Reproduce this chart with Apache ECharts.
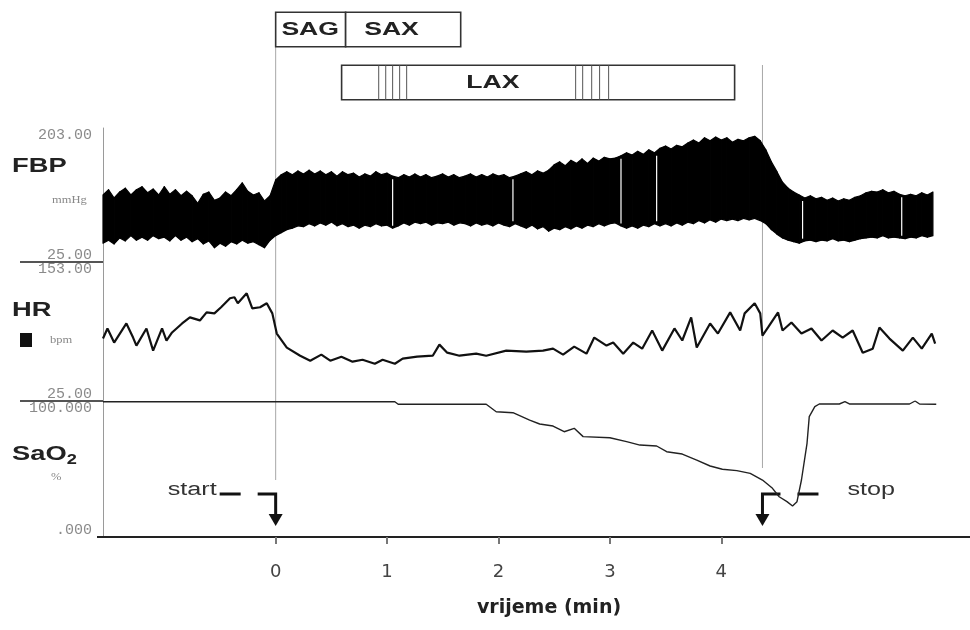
<!DOCTYPE html>
<html><head><meta charset="utf-8">
<script src="https://cdn.jsdelivr.net/npm/echarts@6/dist/echarts.min.js"></script>
<style>html,body{margin:0;padding:0;background:#fff}#c{width:970px;height:630px}</style>
</head><body><div id="c"></div>
<script>
// ---------- data ----------
const xTicks = [0, 1, 2, 3, 4];                       // vrijeme (min)
const fbpTicks = [25, 203], fbpTickLabels = ['25.00', '203.00'];
const hrTicks = [25, 153],  hrTickLabels = ['25.00', '153.00'];
const saTicks = [0, 100],   saTickLabels = ['.000', '100.000'];

// FBP envelope, sampled every 0.05 min from -1.55 min (mmHg)
const FBP_T0 = -1.55, FBP_DT = 0.05;
const fbpSys = [
 114,121,110,118,123,114,121,125,117,122,
 114,125,115,121,113,119,113,103,115,118,
 107,110,118,113,121,130,119,114,117,106,
 113,134,141,145,141,146,142,147,142,146,
 141,145,139,145,141,143,138,142,139,145,
 141,143,139,137,141,138,142,138,141,137,
 139,142,138,141,137,139,142,138,141,138,
 142,139,141,137,139,142,145,141,146,143,
 147,154,158,153,160,156,162,156,163,159,
 164,162,163,166,170,167,172,168,174,170,
 176,179,175,180,178,183,187,183,190,186,
 191,187,190,184,188,186,190,192,186,174,
 158,145,131,123,118,114,110,113,109,111,
 107,110,106,109,107,111,113,117,119,118,
 121,117,119,115,113,115,113,117,114,118];
const fbpDia = [
 50,54,49,57,53,60,54,58,54,60,
 56,58,53,60,54,58,52,56,49,53,
 44,50,46,52,49,54,50,52,48,44,
 54,60,64,68,70,73,72,76,73,77,
 74,78,73,76,72,74,70,74,72,76,
 73,74,70,73,77,74,78,76,78,74,
 77,76,78,74,77,76,73,77,74,76,
 73,77,74,72,76,73,70,74,69,72,
 66,70,68,72,69,73,70,74,72,76,
 73,76,77,73,70,73,70,74,72,76,
 73,76,73,77,74,78,76,80,77,81,
 78,82,80,82,80,83,81,83,80,76,
 68,62,57,54,52,50,53,54,52,54,
 53,56,53,54,52,54,56,57,58,57,
 60,57,58,57,56,58,57,60,58,60];
const fbpGapTimes = [1.05, 2.13, 3.10, 3.42, 4.73, 5.62];

// HR (bpm)
const hrTime = [-1.55,-1.51,-1.45,-1.34,-1.28,-1.25,-1.16,-1.10,-1.02,-0.98,-0.93,-0.84,-0.77,-0.68,-0.62,-0.55,-0.49,-0.41,-0.37,-0.34,-0.26,-0.21,-0.14,-0.08,-0.03,0.01,0.10,0.22,0.31,0.41,0.49,0.59,0.69,0.78,0.89,0.96,1.07,1.14,1.27,1.41,1.47,1.54,1.65,1.80,1.89,2.07,2.25,2.40,2.49,2.58,2.68,2.79,2.86,2.97,3.03,3.12,3.21,3.29,3.38,3.47,3.58,3.65,3.73,3.78,3.90,3.97,4.08,4.17,4.21,4.30,4.35,4.37,4.42,4.51,4.55,4.63,4.72,4.81,4.90,5.00,5.09,5.18,5.27,5.36,5.42,5.51,5.63,5.72,5.80,5.89,5.92];
const hrValue = [82.5,91.8,78.8,96.4,83.4,76.0,91.8,71.4,91.8,80.7,88.1,96.4,102.0,99.2,106.6,105.7,111.3,119.6,120.5,115.0,124.2,110.3,111.3,115.0,105.7,87.1,74.2,66.7,62.1,67.7,62.1,65.8,61.2,63.0,59.3,63.0,59.3,64.0,65.8,66.7,76.9,69.5,66.7,68.6,66.7,71.4,70.5,71.4,73.2,67.7,75.1,68.6,83.4,76.0,78.8,68.6,78.8,73.2,89.9,71.4,91.8,80.7,102.0,74.2,96.4,87.1,106.6,89.9,105.7,115.0,105.7,85.3,92.7,106.6,89.9,97.3,87.1,91.8,80.7,89.9,83.4,89.9,69.5,73.2,92.7,82.5,71.4,83.4,73.2,87.1,77.9];

// SaO2 (%)
const saTime = [-1.55,1.07,1.10,1.89,1.98,2.13,2.28,2.37,2.49,2.59,2.68,2.76,3.00,3.15,3.27,3.42,3.51,3.65,3.78,3.90,4.01,4.14,4.26,4.37,4.46,4.52,4.59,4.64,4.68,4.72,4.77,4.79,4.84,4.88,5.06,5.11,5.15,5.69,5.74,5.78,5.93];
const saValue = [99.5,99.5,97.6,97.6,92.1,91.4,86.0,83.1,81.6,77.4,79.9,73.8,73.0,70.1,67.6,66.9,62.7,61.0,56.6,52.2,49.8,48.8,46.8,41.9,35.8,29.6,26.0,22.8,26.0,41.9,68.9,88.5,95.8,97.8,97.8,99.5,97.8,97.8,100,97.8,97.6];

// imaging protocol boxes (min)
const boxNames  = ['SAG', 'SAX', 'LAX'];
const boxStart  = [0, 0.628, 0.592];
const boxEnd    = [0.628, 1.661, 4.12];
const boxRow    = [0, 0, 1];
const boxLabelT = [0.31, 1.04, 1.95];
const laxMarks  = [0.925, 0.988, 1.05, 1.113, 1.176, 2.693, 2.756, 2.837, 2.908, 2.989];

// events
const eventTime  = [0, 4.37];
const eventLabel = ['start', 'stop'];

// ---------- layout (not data) ----------
const X_MIN = -1.55, X_MAX = 6.233;
const LAYOUT = { eventTop: [13, 65], eventBottom: [480, 468], textGap: [59, 85] };

const chart = echarts.init(document.getElementById('c'), null, { renderer: 'canvas' });

function yLabelAxis(gi, min, max, ticks, labels) {
  return {
    gridIndex: gi, type: 'value', min: min, max: max,
    axisLine: { show: true, onZero: false, lineStyle: { color: '#9a9a9a', width: 1 } },
    axisTick: { show: false }, splitLine: { show: false },
    axisLabel: {
      customValues: ticks, margin: 11,
      formatter: function (v) {
        const i = ticks.indexOf(v);
        return i === ticks.length - 1 ? '{t|' + labels[i] + '}' : '{b|' + labels[i] + '}';
      },
      rich: {
        t: { fontFamily: 'Liberation Mono', fontSize: 15, color: '#8a8a8a', padding: [14, 0, 0, 0] },
        b: { fontFamily: 'Liberation Mono', fontSize: 15, color: '#8a8a8a', padding: [0, 0, 14, 0] }
      }
    }
  };
}

const option = {
  animation: false,
  backgroundColor: '#fff',
  grid: [
    { left: 103, right: 0, top: 3, height: 106 },
    { left: 103, right: 0, top: 128, height: 134 },
    { left: 103, right: 0, top: 262, height: 139 },
    { left: 103, right: 0, top: 401, height: 136 }
  ],
  xAxis: [
    { gridIndex: 0, type: 'value', min: X_MIN, max: X_MAX, show: false },
    { gridIndex: 1, type: 'value', min: X_MIN, max: X_MAX, show: false },
    { gridIndex: 2, type: 'value', min: X_MIN, max: X_MAX, show: false },
    {
      gridIndex: 3, type: 'value', min: X_MIN, max: X_MAX,
      axisLine: { onZero: false, lineStyle: { color: '#222', width: 2 } },
      axisTick: { customValues: xTicks, length: 7, lineStyle: { color: '#777', width: 2 } },
      axisLabel: { customValues: xTicks, margin: 26, fontSize: 18, color: '#444', fontFamily: 'DejaVu Sans' },
      splitLine: { show: false },
      name: 'vrijeme (min)', nameLocation: 'middle', nameGap: 62,
      nameTextStyle: { fontSize: 19, fontWeight: 'bold', fontFamily: 'DejaVu Sans', color: '#222', padding: [0, 0, 0, 25] }
    }
  ],
  yAxis: [
    { gridIndex: 0, type: 'category', data: ['r0', 'r1'], inverse: true, show: false },
    yLabelAxis(1, 25, 203, fbpTicks, fbpTickLabels),
    yLabelAxis(2, 25, 153, hrTicks, hrTickLabels),
    yLabelAxis(3, 0, 100, saTicks, saTickLabels)
  ],
  graphic: [
    { type: 'line', shape: { x1: 20, y1: 262, x2: 104, y2: 262 }, style: { stroke: '#555', lineWidth: 2 } },
    { type: 'line', shape: { x1: 20, y1: 401, x2: 104, y2: 401 }, style: { stroke: '#555', lineWidth: 2 } },
    { type: 'line', shape: { x1: 97, y1: 537, x2: 104, y2: 537 }, style: { stroke: '#222', lineWidth: 2 } },
    { type: 'text', x: 12, y: 166, scaleX: 1.3, style: { text: 'FBP', fill: '#222', font: 'bold 21px "Liberation Sans"', verticalAlign: 'middle' } },
    { type: 'text', x: 12, y: 310, scaleX: 1.3, style: { text: 'HR', fill: '#222', font: 'bold 21px "Liberation Sans"', verticalAlign: 'middle' } },
    { type: 'text', x: 12, y: 454, scaleX: 1.3, style: {
        text: '{a|SaO}{s|2}', verticalAlign: 'middle',
        rich: {
          a: { fontSize: 21, fontWeight: 'bold', fontFamily: 'Liberation Sans', fill: '#222', color: '#222', lineHeight: 26, verticalAlign: 'middle' },
          s: { fontSize: 14, fontWeight: 'bold', fontFamily: 'Liberation Sans', fill: '#222', color: '#222', lineHeight: 14, verticalAlign: 'bottom' }
        } } },
    { type: 'text', x: 52, y: 200, scaleX: 1.25, style: { text: 'mmHg', fill: '#888', font: '10px "Liberation Serif"', verticalAlign: 'middle' } },
    { type: 'rect', shape: { x: 20, y: 333, width: 12, height: 14 }, style: { fill: '#111' } },
    { type: 'text', x: 50, y: 340, scaleX: 1.25, style: { text: 'bpm', fill: '#888', font: '10px "Liberation Serif"', verticalAlign: 'middle' } },
    { type: 'text', x: 51, y: 477, scaleX: 1.25, style: { text: '%', fill: '#888', font: '10px "Liberation Serif"', verticalAlign: 'middle' } }
  ],
  series: [
    {
      name: 'protocol', type: 'custom', xAxisIndex: 0, yAxisIndex: 0, z: 2,
      data: boxNames.map(function (n, i) { return [boxStart[i], boxEnd[i], boxRow[i], boxLabelT[i]]; }),
      encode: { x: [0, 1, 3], y: 2 },
      renderItem: function (params, api) {
        const i = params.dataIndex;
        const row = api.value(2);
        const s = api.coord([api.value(0), row]);
        const e = api.coord([api.value(1), row]);
        const h = api.size([0, 1])[1] * 0.65;
        const lx = api.coord([api.value(3), row])[0];
        const children = [
          { type: 'rect', shape: { x: s[0], y: s[1] - h / 2, width: e[0] - s[0], height: h },
            style: { fill: '#fff', stroke: '#333', lineWidth: 1.6 } }
        ];
        if (row === 1) {
          laxMarks.forEach(function (m) {
            const p = api.coord([m, row]);
            children.push({ type: 'line', shape: { x1: p[0], y1: s[1] - h / 2, x2: p[0], y2: s[1] + h / 2 },
              style: { stroke: '#555', lineWidth: 1 } });
          });
        }
        children.push({ type: 'text', x: lx, y: s[1], scaleX: 1.4,
          style: { text: boxNames[i], x: 0, y: 0, align: 'center', verticalAlign: 'middle',
                   fontSize: 19, fontWeight: 'bold', fontFamily: 'Liberation Sans', fill: '#222' } });
        return { type: 'group', children: children };
      }
    },
    {
      // FBP pressure band: filled between diastolic and systolic envelopes
      name: 'FBP', type: 'custom', xAxisIndex: 1, yAxisIndex: 1, z: 3,
      data: fbpSys.map(function (v, k) { return [FBP_T0 + k * FBP_DT, fbpDia[k], v]; }),
      encode: { x: 0, y: [1, 2] },
      renderItem: function (params, api) {
        const k = params.dataIndex;
        if (k >= fbpSys.length - 1) return null;
        const t0 = api.value(0), t1 = FBP_T0 + (k + 1) * FBP_DT;
        const a = api.coord([t0, api.value(1)]), b = api.coord([t0, api.value(2)]);
        const c = api.coord([t1, fbpSys[k + 1]]), d = api.coord([t1, fbpDia[k + 1]]);
        return { type: 'polygon', shape: { points: [a, b, c, d] },
                 style: { fill: '#000', stroke: '#000', lineWidth: 1.2, lineJoin: 'round' } };
      }
    },
    {
      name: 'FBP gaps', type: 'custom', xAxisIndex: 1, yAxisIndex: 1, z: 4,
      data: fbpGapTimes.map(function (t) { return [t]; }),
      encode: { x: 0 },
      renderItem: function (params, api) {
        const t = api.value(0);
        const k = Math.round((t - FBP_T0) / FBP_DT);
        const top = api.coord([t, fbpSys[k] - 4]), bot = api.coord([t, fbpDia[k] + 3]);
        return { type: 'line', shape: { x1: top[0], y1: top[1], x2: bot[0], y2: bot[1] },
                 style: { stroke: '#fff', lineWidth: 1.2 } };
      }
    },
    {
      name: 'HR', type: 'line', xAxisIndex: 2, yAxisIndex: 2, z: 3,
      showSymbol: false, symbol: 'none',
      data: hrTime.map(function (t, i) { return [t, hrValue[i]]; }),
      lineStyle: { color: '#111', width: 2.2 }
    },
    {
      name: 'SaO2', type: 'line', xAxisIndex: 3, yAxisIndex: 3, z: 3,
      showSymbol: false, symbol: 'none',
      data: saTime.map(function (t, i) { return [t, saValue[i]]; }),
      lineStyle: { color: '#222', width: 1.4 }
    },
    {
      name: 'events', type: 'custom', xAxisIndex: 3, yAxisIndex: 3, z: 1, clip: false,
      data: eventTime.map(function (t, i) { return [t, 0, i]; }),
      encode: { x: 0, y: 1 },
      renderItem: function (params, api) {
        const i = params.dataIndex;
        const p = api.coord([api.value(0), 0]);
        const x = p[0], yb = p[1];
        const dir = i === 0 ? -1 : 1;
        const yH = yb - 43;
        return { type: 'group', children: [
          { type: 'line', shape: { x1: x, y1: LAYOUT.eventTop[i], x2: x, y2: LAYOUT.eventBottom[i] },
            style: { stroke: '#a8a8a8', lineWidth: 1 } },
          { type: 'polyline', shape: { points: [[x + dir * 18, yH], [x, yH], [x, yb - 22]] },
            style: { stroke: '#111', lineWidth: 3, fill: null } },
          { type: 'polygon', shape: { points: [[x - 7, yb - 23], [x + 7, yb - 23], [x, yb - 11]] },
            style: { fill: '#111' } },
          { type: 'line', shape: { x1: x + dir * 35, y1: yH, x2: x + dir * 56, y2: yH },
            style: { stroke: '#111', lineWidth: 3 } },
          { type: 'text', x: x + dir * LAYOUT.textGap[i], y: yH - 4, scaleX: 1.4,
            style: { text: eventLabel[i], x: 0, y: 0, align: i === 0 ? 'right' : 'left', verticalAlign: 'middle',
                     fontSize: 18, fontFamily: 'Liberation Sans', fill: '#333' } }
        ] };
      }
    }
  ]
};
chart.setOption(option);
</script>
</body></html>
